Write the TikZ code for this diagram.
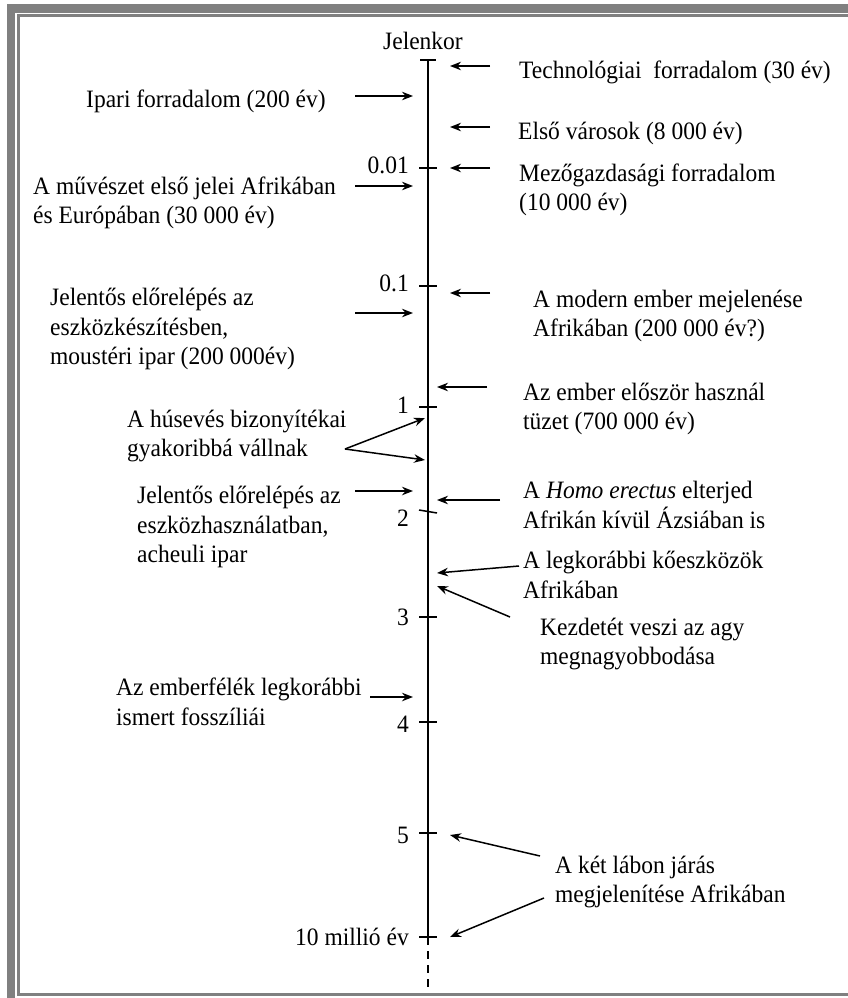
\documentclass[tikz,border=0pt]{standalone}
\usepackage{fontspec}
\setmainfont{Liberation Serif}[FakeStretch=0.94]
\usetikzlibrary{arrows.meta}
\definecolor{framegray}{RGB}{128,128,128}
\begin{document}
\begin{tikzpicture}[x=1pt,y=-1pt,
  lbl/.style={inner sep=0pt, font=\fontsize{25}{29.5}\selectfont, align=left, anchor=west},
  tlbl/.style={inner sep=0pt, font=\fontsize{25}{29.5}\selectfont, anchor=east},
  arr/.style={line width=1.5pt, -{Stealth[length=11pt,width=8.5pt]}},
  axisline/.style={line width=1.5pt},
  tickline/.style={line width=1.5pt}]
\useasboundingbox (0,0) rectangle (848,998);
% frame
\fill[framegray] (7,4) rectangle (848,13);
\fill[framegray] (7,4) rectangle (15,998);
\fill[framegray] (17,14) rectangle (848,17);
\fill[framegray] (17,14) rectangle (20,996);
\fill[framegray] (17,993) rectangle (848,996);

% axis
\coordinate (top) at (428,60);
\coordinate (bot) at (428,937);
\coordinate (end) at (428,992);
\draw[axisline] (top) -- (bot);
\draw[axisline, dash pattern=on 8pt off 6pt] (bot) -- (end);
\draw[tickline] (420,60) -- (436,60);
\node[inner sep=0pt, font=\fontsize{25}{29.5}\selectfont, anchor=base] (jel) at (423,50) {Jelenkor};

% ticks
\draw[tickline] (419,168) -- (437,168);
\node[tlbl] (t001) at (409,165) {0.01};
\draw[tickline] (419,286) -- (437,286);
\node[tlbl] (t01) at (409,283) {0.1};
\draw[tickline] (419,407) -- (437,407);
\node[tlbl] (t1) at (409,405) {1};
\draw[tickline] (419,510) -- (437,513);
\node[tlbl] (t2) at (409,518) {2};
\draw[tickline] (419,617) -- (437,617);
\node[tlbl] (t3) at (409,617) {3};
\draw[tickline] (419,722) -- (437,722);
\node[tlbl] (t4) at (409,724) {4};
\draw[tickline] (419,833) -- (437,833);
\node[tlbl] (t5) at (409,835) {5};
\draw[tickline] (419,937) -- (437,937);
\node[tlbl] (t10) at (409,937) {10 millió év};

% right side texts
\node[lbl] (tech) at (519,72) {Technológiai\ \ forradalom (30 év)};
\node[lbl] (varos) at (518,133) {Első városok (8 000 év)};
\node[lbl] (mezo) at (519,190) {Mezőgazdasági forradalom\\(10 000 év)};
\node[lbl] (modern) at (533,316) {A modern ember mejelenése\\Afrikában (200 000 év?)};
\node[lbl] (tuz) at (523,409) {Az ember először használ\\tüzet (700 000 év)};
\node[lbl] (homo) at (523,505) {A \textit{Homo erectus} elterjed\\Afrikán kívül Ázsiában is};
\node[lbl] (ko) at (523,575) {A legkorábbi kőeszközök\\Afrikában};
\node[lbl] (agy) at (540,644) {Kezdetét veszi az agy\\megnagyobbodása};
\node[lbl] (lab) at (555,882) {A két lábon járás\\megjelenítése Afrikában};

% left side texts
\node[lbl] (ipari) at (86,101) {Ipari forradalom (200 év)};
\node[lbl] (muv) at (33,203) {A művészet első jelei Afrikában\\és Európában (30 000 év)};
\node[lbl] (must) at (50,329) {Jelentős előrelépés az\\eszközkészítésben,\\moustéri ipar (200 000év)};
\node[lbl] (hus) at (127,436) {A húsevés bizonyítékai\\gyakoribbá vállnak};
\node[lbl] (ach) at (137,527) {Jelentős előrelépés az\\eszközhasználatban,\\acheuli ipar};
\node[lbl] (foss) at (116,702) {Az emberfélék legkorábbi\\ismert fosszíliái};

% arrow end points
\coordinate (a1s) at (490,66);  \coordinate (a1e) at (450,66);
\coordinate (a2s) at (490,127); \coordinate (a2e) at (450,127);
\coordinate (a3s) at (490,168); \coordinate (a3e) at (450,168);
\coordinate (a4s) at (490,293); \coordinate (a4e) at (450,293);
\coordinate (a5s) at (487,387); \coordinate (a5e) at (437,387);
\coordinate (a6s) at (500,500); \coordinate (a6e) at (437,500);
\coordinate (a7s) at (519,566); \coordinate (a7e) at (437,573);
\coordinate (a8s) at (510,617); \coordinate (a8e) at (437,586);
\coordinate (a9s) at (540,856); \coordinate (a9e) at (450,835);
\coordinate (a10s) at (544,898); \coordinate (a10e) at (450,937);

\coordinate (b1s) at (355,96);  \coordinate (b1e) at (413,96);
\coordinate (b2s) at (355,186); \coordinate (b2e) at (413,186);
\coordinate (b3s) at (355,313); \coordinate (b3e) at (413,313);
\coordinate (b4s) at (345,449); \coordinate (b4e) at (425,418);
\coordinate (b5e) at (425,460);
\coordinate (b6s) at (355,491); \coordinate (b6e) at (413,491);
\coordinate (b7s) at (370,697); \coordinate (b7e) at (413,697);

\foreach \s/\e in {a1s/a1e,a2s/a2e,a3s/a3e,a4s/a4e,a5s/a5e,a6s/a6e,a7s/a7e,a8s/a8e,a9s/a9e,a10s/a10e,b1s/b1e,b2s/b2e,b3s/b3e,b4s/b4e,b4s/b5e,b6s/b6e,b7s/b7e}
  \draw[arr] (\s) -- (\e);
\end{tikzpicture}
\end{document}
